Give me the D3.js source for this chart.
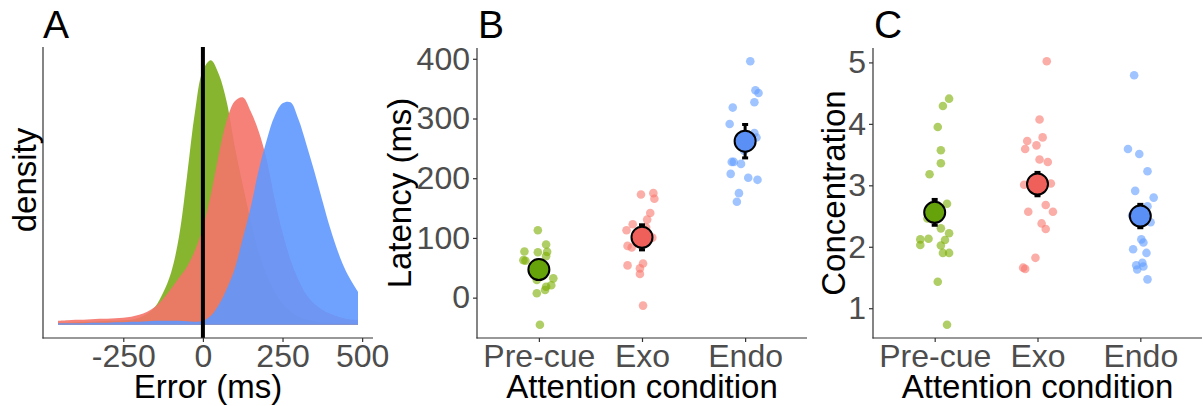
<!DOCTYPE html>
<html><head><meta charset="utf-8">
<script src="https://cdn.jsdelivr.net/npm/d3@7"></script>
<style>
body{margin:0;background:#fff;}
svg{display:block;font-family:"Liberation Sans", Arial, sans-serif;}
</style></head><body>
<svg id="chart" width="1203" height="406"></svg>
<script>
// ---------------- DATA ----------------
const categories = ["Pre-cue", "Exo", "Endo"];

// Panel A: density curves (density, arbitrary units x1e-5) sampled at error values (ms)
const densityX = [-455,-425,-400,-375,-350,-325,-300,-275,-250,-225,-200,-175,-150,-125,-100,-75,-50,-25,0,25,50,75,100,125,150,175,200,225,250,275,300,325,350,375,400,425,450,475,487];
const densityPrecue = [2,2,2.5,3,3,3.5,4,4,4.5,5,7,11,18,32,52,88,148,212,254,264,250,222,178,140,104,72,50,33,21,13,8,5,3.5,2.5,2,1.5,1.5,1,1];
const densityExo = [4,4.5,5,5,5.5,6,6,6.5,7,8,10,13,18,26,36,47,58,74,97,130,170,204,223,227,213,193,165,126,92,65,45,30,21,15,11,8,6,5,5];
const densityEndo = [1.5,1.5,1.5,1.5,2,2,2,2.5,2.5,3,3,3.5,4,4,4,4,3.5,3,4,9,20,36,56,86,117,154,184,208,221,222,205,180,153,124,96,72,53,39,33];
const errorTicks = [-250, 0, 250, 500];

// Panel B: latency (ms) per participant, jitter in category units
const latencyPrecue = [112.8,77.3,76,89,76.7,69.5,62.8,61.7,29.5,32.3,20.7,18.3,12.8,7.3,-45.5];
const jitterLatPrecue = [-0.01,-0.14,-0.01,0.07,0.08,0.07,-0.15,-0.13,-0.02,0.14,0.12,0.07,0.06,-0.02,0.01];
const latencyExo = [172.8,175,165.7,141.7,130.7,122.8,112.8,117.5,100.5,86.7,84,57.3,54,49,39.5,-13.3];
const jitterLatExo = [-0.01,0.11,0.12,0.08,0.05,-0.09,-0.15,0.04,0.10,-0.14,-0.10,0.01,-0.14,-0.02,-0.02,0.01];
const latencyEndo = [396,347.3,342.8,327.3,318.3,290.7,275.7,268.3,246,227.3,227.3,224,207.3,200.7,197.3,175,160.7];
const jitterLatEndo = [0.05,0.10,0.13,0.09,-0.12,-0.15,0.09,0.11,-0.01,-0.13,-0.11,-0.04,-0.14,0.03,0.12,-0.06,-0.08];
const latencyMean = [47, 101, 262];
const latencySE = [15.5, 21, 28];
const latencyTicks = [0, 100, 200, 300, 400];

// Panel C: concentration per participant
const concPrecue = [4.41,4.29,3.95,3.57,3.36,3.18,2.70,2.46,2.30,2.22,2.13,2.12,2.03,2.11,2.02,1.90,1.90,1.43,0.73];
const jitterConcPrecue = [0.14,0.08,0.03,0.06,0.06,-0.05,0.12,-0.07,0.06,0.14,-0.06,-0.14,-0.14,0.10,0.06,0.08,0.14,0.03,0.12];
const concExo = [5.02,4.07,3.78,3.72,3.65,3.59,3.42,3.38,3.01,3.03,2.68,2.57,2.57,2.38,2.29,1.82,1.66,1.64];
const jitterConcExo = [0.09,0.02,0.05,-0.10,-0.01,-0.12,0.02,0.10,-0.13,0.13,0.08,-0.09,0.15,0.04,0.08,-0.02,-0.14,-0.12];
const concEndo = [4.79,3.59,3.51,3.23,2.91,2.80,2.66,2.40,2.51,2.12,2.07,1.96,1.90,1.70,1.74,1.68,1.63,1.47];
const jitterConcEndo = [-0.06,-0.12,-0.01,0.07,-0.05,0.13,0.07,0.10,-0.08,0.01,0.03,-0.07,0.06,-0.04,0.02,0.03,-0.03,0.07];
const concMean = [2.56, 3.02, 2.50];
const concSE = [0.21, 0.19, 0.19];
const concTicks = [1, 2, 3, 4, 5];

// ---------------- STYLE ----------------
const fillCol = ["#7CAE00", "#F8766D", "#619CFF"];
const densCol = ["#7BAD1A", "#F4736A", "#5F98FF"];
const meanCol = ["#66A20A", "#F0605A", "#5A8FF5"];
const axisCol = "#333333";
const tickTextCol = "#4D4D4D";
const tickFont = 32, titleFont = 33, letterFont = 39;
const fmtPlain = d => String(d);

const svg = d3.select("#chart");

function expand(ext, f = 0.05) { const d = ext[1] - ext[0]; return [ext[0] - d * f, ext[1] + d * f]; }

function axesL(g, L, R, T, B) {
  g.append("line").attr("x1", L).attr("x2", L).attr("y1", T).attr("y2", B + 0.5)
    .attr("stroke", axisCol).attr("stroke-width", 1.2);
  g.append("line").attr("x1", L - 0.5).attr("x2", R).attr("y1", B).attr("y2", B)
    .attr("stroke", axisCol).attr("stroke-width", 1.2);
}
function styleAxis(sel) {
  sel.select(".domain").remove();
  sel.selectAll(".tick line").attr("stroke", axisCol).attr("stroke-width", 1.2);
  sel.selectAll(".tick text").attr("fill", tickTextCol).attr("font-size", tickFont)
    .attr("font-family", "Liberation Sans, Arial, sans-serif");
}
function label(txt, x, y, size, opts = {}) {
  const t = svg.append("text").attr("x", x).attr("y", y).text(txt)
    .attr("font-size", size).attr("fill", opts.fill || "#000")
    .attr("text-anchor", opts.anchor || "middle");
  if (opts.rotate) t.attr("transform", `rotate(-90,${x},${y})`);
  return t;
}

// ---------------- PANEL A ----------------
{
  const L = 43, R = 373, T = 47, B = 338;
  const g = svg.append("g");
  const x = d3.scaleLinear().domain(expand(d3.extent(densityX))).range([L, R]);
  const allD = densityPrecue.concat(densityExo, densityEndo);
  const y = d3.scaleLinear().domain(expand([0, d3.max(allD)])).range([B, T]);
  const series = [densityPrecue, densityExo, densityEndo];
  const area = d3.area().curve(d3.curveCatmullRom.alpha(0.5))
    .x((d, i) => x(densityX[i])).y0(y(0)).y1(d => y(d));
  series.forEach((s, i) => {
    g.append("path").datum(s).attr("d", area).attr("fill", densCol[i]).attr("fill-opacity", 0.9);
  });
  g.append("line").attr("x1", x(0)).attr("x2", x(0)).attr("y1", T).attr("y2", B)
    .attr("stroke", "#000").attr("stroke-width", 4);
  axesL(g, L, R, T, B);
  const ax = g.append("g").attr("transform", `translate(0,${B})`)
    .call(d3.axisBottom(x).tickValues(errorTicks).tickFormat(fmtPlain).tickSize(4).tickPadding(2));
  styleAxis(ax);
  label("Error (ms)", (L + R) / 2, 398, titleFont);
  label("density", 36, 180, titleFont, { rotate: true });
  label("A", L, 38, letterFont, { anchor: "start" });
}

// ---------------- PANELS B & C ----------------
function stripPanel(opt) {
  const { L, R, T, B, groups, jitters, means, ses, ticks, ytitle, ytitleX, letter } = opt;
  const g = svg.append("g");
  const x = d3.scaleLinear().domain([0.4, 3.6]).range([L, R]);
  const all = groups.flat();
  const y = d3.scaleLinear().domain(expand(d3.extent(all))).range([B, T]);
  groups.forEach((vals, i) => {
    g.selectAll(null).data(vals).enter().append("circle")
      .attr("cx", (d, j) => x(i + 1 + jitters[i][j])).attr("cy", d => y(d))
      .attr("r", 4.3).attr("fill", fillCol[i]).attr("fill-opacity", 0.6);
  });
  means.forEach((m, i) => {
    const cx = x(i + 1);
    g.append("line").attr("x1", cx).attr("x2", cx).attr("y1", y(m - ses[i])).attr("y2", y(m + ses[i]))
      .attr("stroke", "#000").attr("stroke-width", 3);
    [m - ses[i], m + ses[i]].forEach(v => {
      g.append("line").attr("x1", cx - 3).attr("x2", cx + 3).attr("y1", y(v)).attr("y2", y(v))
        .attr("stroke", "#000").attr("stroke-width", 3);
    });
    g.append("circle").attr("cx", cx).attr("cy", y(m)).attr("r", 10.5)
      .attr("fill", meanCol[i]).attr("stroke", "#000").attr("stroke-width", 2);
  });
  axesL(g, L, R, T, B);
  const ax = g.append("g").attr("transform", `translate(0,${B})`)
    .call(d3.axisBottom(x).tickValues([1, 2, 3]).tickFormat(i => categories[i - 1]).tickSize(4).tickPadding(2));
  styleAxis(ax);
  const ay = g.append("g").attr("transform", `translate(${L},0)`)
    .call(d3.axisLeft(y).tickValues(ticks).tickFormat(fmtPlain).tickSize(4).tickPadding(3));
  styleAxis(ay);
  label("Attention condition", x(2), 398, titleFont);
  label(ytitle, ytitleX, (T + B) / 2, titleFont, { rotate: true });
  label(letter, L + 1, 38, letterFont, { anchor: "start" });
}

stripPanel({
  L: 477, R: 807, T: 48, B: 338,
  groups: [latencyPrecue, latencyExo, latencyEndo],
  jitters: [jitterLatPrecue, jitterLatExo, jitterLatEndo],
  means: latencyMean, ses: latencySE, ticks: latencyTicks,
  ytitle: "Latency (ms)", ytitleX: 411, letter: "B"
});
stripPanel({
  L: 873, R: 1202, T: 48, B: 338,
  groups: [concPrecue, concExo, concEndo],
  jitters: [jitterConcPrecue, jitterConcExo, jitterConcEndo],
  means: concMean, ses: concSE, ticks: concTicks,
  ytitle: "Concentration", ytitleX: 845, letter: "C"
});
</script>
</body></html>
